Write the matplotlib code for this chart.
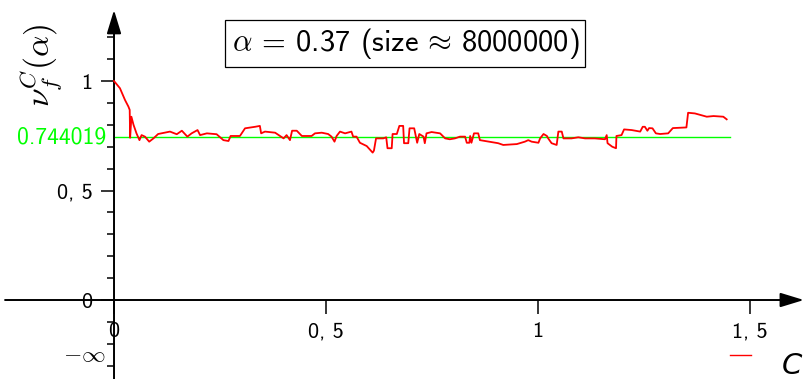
import matplotlib.pyplot as plt
import numpy as np

plt.rcParams['font.family'] = ['cmss10', 'DejaVu Sans']
plt.rcParams['mathtext.fontset'] = 'cm'
plt.rcParams['axes.unicode_minus'] = False

# nu_f^C(alpha) against C
C = [0, 0.014, 0.026, 0.034, 0.037, 0.038, 0.041, 0.046, 0.053, 0.06, 0.065, 0.073, 0.083, 0.093,
     0.104, 0.132, 0.148, 0.16, 0.173, 0.183, 0.197, 0.203, 0.219, 0.242, 0.258, 0.27, 0.275, 0.285,
     0.297, 0.309, 0.333, 0.344, 0.347, 0.356, 0.38, 0.40, 0.407, 0.415, 0.42, 0.431, 0.443, 0.466,
     0.474, 0.49, 0.505, 0.513, 0.52, 0.525, 0.533, 0.545, 0.56, 0.564, 0.572, 0.58, 0.596, 0.61,
     0.613, 0.618, 0.635, 0.642, 0.645, 0.655, 0.657, 0.667, 0.673, 0.682, 0.684, 0.694, 0.697,
     0.708, 0.715, 0.72, 0.73, 0.733, 0.737, 0.749, 0.769, 0.781, 0.792, 0.804, 0.816, 0.828,
     0.832, 0.838, 0.84, 0.843, 0.849, 0.859, 0.863, 0.885, 0.906, 0.918, 0.95, 0.969, 0.977,
     0.985, 1.001, 1.005, 1.013, 1.021, 1.024, 1.032, 1.044, 1.048, 1.056, 1.06, 1.079, 1.095,
     1.111, 1.134, 1.158, 1.162, 1.164, 1.175, 1.184, 1.185, 1.197, 1.203, 1.221, 1.241, 1.247,
     1.252, 1.258, 1.262, 1.27, 1.278, 1.288, 1.307, 1.318, 1.35, 1.354, 1.37, 1.398, 1.414,
     1.437, 1.445]
nu = [1.0, 0.967, 0.913, 0.883, 0.868, 0.741, 0.837, 0.80, 0.761, 0.73, 0.753, 0.746, 0.723, 0.738,
      0.758, 0.769, 0.757, 0.773, 0.746, 0.761, 0.776, 0.753, 0.761, 0.757, 0.73, 0.726, 0.749, 0.749,
      0.749, 0.784, 0.791, 0.795, 0.761, 0.769, 0.764, 0.738, 0.753, 0.73, 0.773, 0.773, 0.749, 0.749,
      0.761, 0.764, 0.758, 0.746, 0.723, 0.749, 0.769, 0.761, 0.769, 0.746, 0.746, 0.718, 0.703, 0.673,
      0.682, 0.738, 0.738, 0.743, 0.693, 0.693, 0.758, 0.758, 0.795, 0.795, 0.716, 0.716, 0.784,
      0.784, 0.718, 0.758, 0.746, 0.716, 0.761, 0.767, 0.761, 0.738, 0.734, 0.738, 0.746, 0.746,
      0.718, 0.718, 0.749, 0.718, 0.761, 0.761, 0.73, 0.723, 0.716, 0.708, 0.712, 0.723, 0.73,
      0.723, 0.718, 0.738, 0.758, 0.749, 0.738, 0.716, 0.708, 0.769, 0.769, 0.738, 0.738, 0.743,
      0.738, 0.738, 0.734, 0.753, 0.716, 0.70, 0.693, 0.749, 0.753, 0.779, 0.776, 0.769, 0.791,
      0.791, 0.773, 0.785, 0.784, 0.761, 0.758, 0.761, 0.785, 0.788, 0.855, 0.852, 0.837, 0.84,
      0.837, 0.825]
mean_nu = 0.744019
alpha = 0.37
size = 8000000

xticks = [0, 0.5, 1, 1.5]
xticklabels = ['0', '0, 5', '1', '1, 5']
yticks = [0, 0.5, 1]
yticklabels = ['0', '0, 5', '1']
yminor = [-0.3, -0.2, -0.1, 0.1, 0.2, 0.3, 0.4, 0.6, 0.7, 0.8, 0.9, 1.1, 1.2]

fig = plt.figure(figsize=(8.05, 3.79), dpi=100)
ax = fig.add_axes([0, 0, 1, 1])
ax.set_xlim(-0.2689, 1.6297)
ax.set_ylim(-0.3607, 1.3699)
ax.patch.set_visible(False)

for s in ['top', 'right', 'left', 'bottom']:
    ax.spines[s].set_visible(False)
ax.spines['left'].set_position(('data', 0))
ax.spines['bottom'].set_position(('data', 0))

# axis lines with arrow heads
arrow = dict(arrowstyle='-|>,head_length=0.72,head_width=0.22', mutation_scale=20,
             color='black', lw=1.4, shrinkA=0, shrinkB=0)
ax.annotate('', xy=(1.627, 0), xytext=(-0.257, 0), arrowprops=arrow, annotation_clip=False)
ax.annotate('', xy=(0, 1.324), xytext=(0, -0.3607), arrowprops=arrow, annotation_clip=False)

ax.set_xticks(xticks)
ax.set_xticklabels(xticklabels)
ax.set_yticks(yticks)
ax.set_yticklabels(yticklabels)
ax.set_yticks(yminor, minor=True)
ax.tick_params(axis='x', direction='out', length=10, width=1.1, pad=6, labelsize=16)
ax.tick_params(axis='y', which='major', direction='out', length=9.5, width=1.1, pad=6, labelsize=16)
ax.tick_params(axis='y', which='minor', direction='out', length=5, width=1.1)

ax.plot([0, 1.453], [mean_nu, mean_nu], color='#00ff00', lw=1.0, zorder=2)
ax.plot(C, nu, color='#ff0000', lw=1.3, zorder=3)

ax.text(-0.019, mean_nu, f'{mean_nu:g}', color='#00ff00', fontsize=17,
        ha='right', va='center')
ax.text(-0.019, -0.25, r'$-\infty$', fontsize=17, ha='right', va='center')

ax.text(0.687, 1.17, r'$\alpha$' + f' = {alpha} (size' + r'$\,\approx\,$' + f'{size})',
        fontsize=22, ha='center', va='center',
        bbox=dict(boxstyle='square,pad=0.2', facecolor='white', edgecolor='black', lw=0.9))

ax.text(-0.172, 1.07, r'$\nu_f^C(\alpha)$', fontsize=24, rotation=90, ha='center', va='center')
ax.text(1.6, -0.3, 'C', fontsize=21, style='italic', family='DejaVu Sans', ha='center', va='center')

# legend entry
ax.plot([1.453, 1.502], [-0.25, -0.25], color='#ff0000', lw=1.0, clip_on=False)

fig.savefig('out.png', dpi=100)
